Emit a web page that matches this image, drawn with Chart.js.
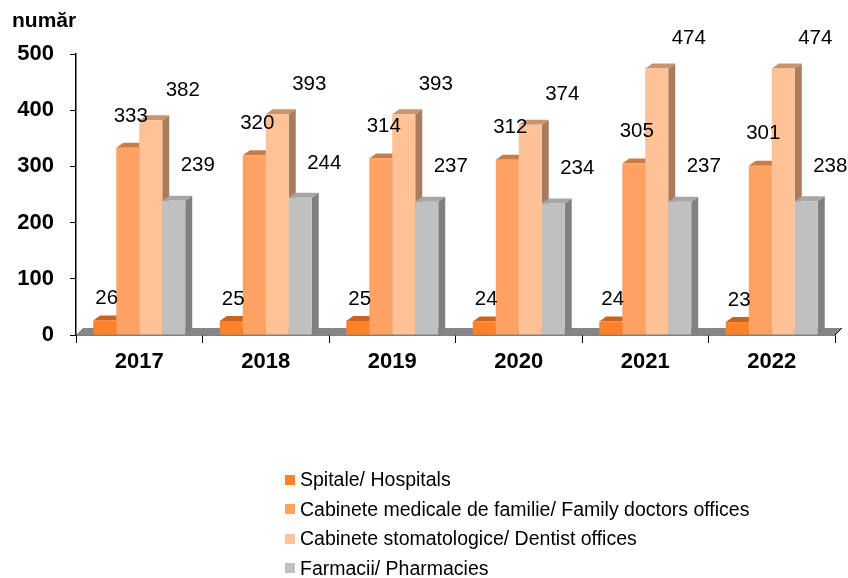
<!DOCTYPE html>
<html lang="ro">
<head>
<meta charset="UTF-8">
<title>Unitati sanitare</title>
<style>
    body { margin: 0; background: #fff; font-family: Arial, "Liberation Sans", sans-serif; }
    #wrap { position: relative; width: 848px; height: 578px; }
    #unit { position: absolute; left: 12px; top: 8px; font-weight: bold; font-size: 21px; color: #000; }
    #legend { position: absolute; left: 285px; top: 465px; font-size: 19.5px; color: #000; }
    .item { height: 29.5px; display: flex; align-items: center; }
    .box { width: 10px; height: 10px; margin-right: 5px; }
</style>
</head>
<body>
<div id="wrap">
    <canvas id="chart" width="848" height="578"></canvas>
    <div id="unit">număr</div>
    <div id="legend"></div>
</div>
<script src="https://cdn.jsdelivr.net/npm/chart.js"></script>
<script>
    const years = ['2017', '2018', '2019', '2020', '2021', '2022'];
    const seriesNames = [
        'Spitale/ Hospitals',
        'Cabinete medicale de familie/ Family doctors offices',
        'Cabinete stomatologice/ Dentist offices',
        'Farmacii/ Pharmacies'
    ];
    const hospitals = [26, 25, 25, 24, 24, 23];
    const familyDoctors = [333, 320, 314, 312, 305, 301];
    const dentists = [382, 393, 393, 374, 474, 474];
    const pharmacies = [239, 244, 237, 234, 237, 238];
    const yTicks = [0, 100, 200, 300, 400, 500];

    const fronts = ['#ff8229', '#ffa262', '#ffc196', '#c0c0c0'];
    const tops = ['#c8641f', '#c97c47', '#c8956e', '#a6a6a6'];
    const sides = ['#b35a1c', '#b06f40', '#a87c5d', '#808080'];
    // where each series' value label sits relative to its bar top
    const labelShift = [[2, -22], [3, -32], [32, -30], [24, -35]];

    const DX = 7, DY = 5;

    const box3d = {
        id: 'box3d',
        beforeDatasetsDraw(chart) {
            const ctx = chart.ctx;
            const area = chart.chartArea;
            const yb = chart.scales.y.getPixelForValue(0);
            // floor
            ctx.save();
            ctx.fillStyle = '#868686';
            ctx.beginPath();
            ctx.moveTo(area.left, yb);
            ctx.lineTo(area.right, yb);
            ctx.lineTo(area.right + DX, yb - DY - 2);
            ctx.lineTo(area.left + DX, yb - DY - 2);
            ctx.closePath();
            ctx.fill();
            ctx.strokeStyle = '#000';
            ctx.lineWidth = 1;
            ctx.beginPath();
            ctx.moveTo(area.right, yb);
            ctx.lineTo(area.right + DX, yb - DY - 2);
            ctx.stroke();
            // side and top faces of every bar
            chart.data.datasets.forEach((ds, i) => {
                chart.getDatasetMeta(i).data.forEach(bar => {
                    const l = bar.x - bar.width / 2, r = bar.x + bar.width / 2;
                    const t = bar.y, b = bar.base;
                    ctx.fillStyle = sides[i];
                    ctx.beginPath();
                    ctx.moveTo(r, b);
                    ctx.lineTo(r + DX, b - DY);
                    ctx.lineTo(r + DX, t - DY);
                    ctx.lineTo(r, t);
                    ctx.closePath();
                    ctx.fill();
                    ctx.fillStyle = tops[i];
                    ctx.beginPath();
                    ctx.moveTo(l, t);
                    ctx.lineTo(r, t);
                    ctx.lineTo(r + DX, t - DY);
                    ctx.lineTo(l + DX, t - DY);
                    ctx.closePath();
                    ctx.fill();
                });
            });
            ctx.restore();
        },
        afterDatasetsDraw(chart) {
            const ctx = chart.ctx;
            ctx.save();
            ctx.font = '20.5px Arial, "Liberation Sans", sans-serif';
            ctx.fillStyle = '#000';
            ctx.textAlign = 'center';
            ctx.textBaseline = 'middle';
            chart.data.datasets.forEach((ds, i) => {
                chart.getDatasetMeta(i).data.forEach((bar, j) => {
                    ctx.fillText(ds.data[j], bar.x + labelShift[i][0], bar.y + labelShift[i][1]);
                });
            });
            ctx.restore();
        }
    };

    const seriesData = [hospitals, familyDoctors, dentists, pharmacies];

    new Chart(document.getElementById('chart'), {
        type: 'bar',
        data: {
            labels: years,
            datasets: seriesData.map((d, i) => ({
                label: seriesNames[i],
                data: d,
                backgroundColor: fronts[i],
                borderWidth: 0,
                categoryPercentage: 0.727,
                barPercentage: 1
            }))
        },
        options: {
            responsive: false,
            animation: false,
            layout: { padding: { top: 54, right: 13, bottom: 198, left: 0 } },
            plugins: { legend: { display: false }, tooltip: { enabled: false } },
            scales: {
                x: {
                    grid: { drawOnChartArea: false, tickLength: 8, color: '#000', offset: true },
                    border: { color: '#000', width: 1.5 },
                    ticks: { color: '#000', padding: 6, font: { size: 22, weight: 'bold', family: 'Arial' } },
                    afterFit(s) { s.height = 45; }
                },
                y: {
                    min: 0,
                    max: 500,
                    afterBuildTicks(s) { s.ticks = yTicks.map(v => ({ value: v })); },
                    grid: { drawOnChartArea: false, tickLength: 6, color: '#000' },
                    border: { color: '#000', width: 1.5 },
                    ticks: { color: '#000', padding: 16, font: { size: 22, weight: 'bold', family: 'Arial' } },
                    afterFit(s) { s.width = 76; }
                }
            }
        },
        plugins: [box3d]
    });

    const legend = document.getElementById('legend');
    seriesNames.forEach((name, i) => {
        const row = document.createElement('div');
        row.className = 'item';
        row.innerHTML = `<span class="box" style="background:${fronts[i]}"></span><span>${name}</span>`;
        legend.appendChild(row);
    });
</script>
</body>
</html>
